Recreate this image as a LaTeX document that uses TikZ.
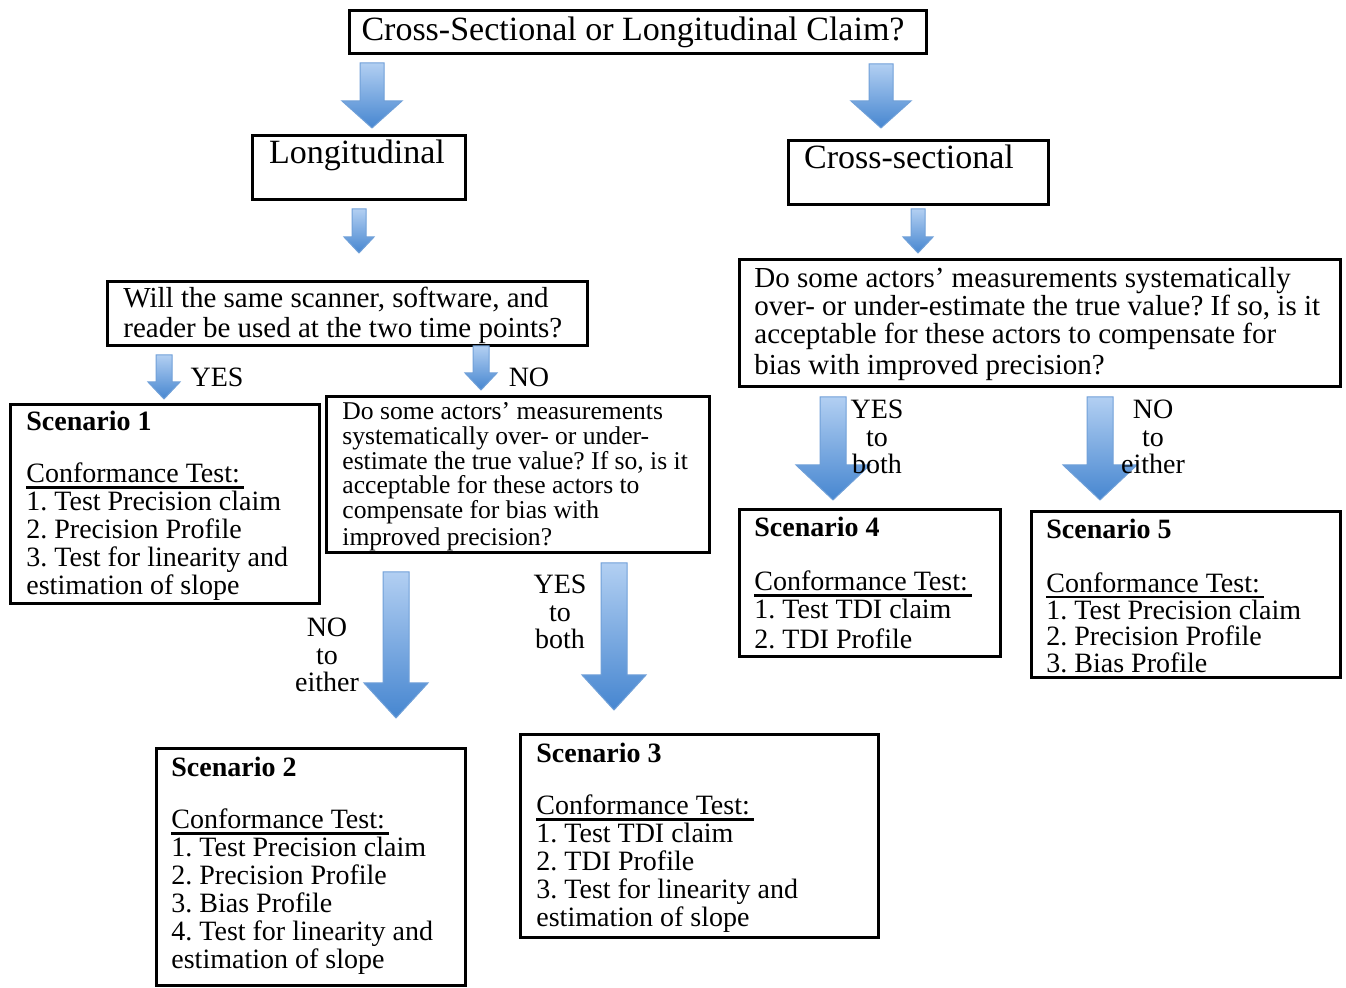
\documentclass[tikz,border=0pt]{standalone}
\usepackage{fontspec}
\setmainfont{Liberation Serif}
\usetikzlibrary{calc,fit}
\definecolor{arrowtop}{RGB}{178,207,242}
\definecolor{arrowbot}{RGB}{70,134,208}
\definecolor{arrowedge}{RGB}{112,160,216}
\tikzset{
  box/.style={draw, line width=1.5pt, inner sep=0pt},
  txt/.style={align=left, inner sep=0pt, anchor=north west, font=\fontsize{14}{14}\selectfont},
  lbl/.style={align=center, inner sep=0pt, anchor=north, font=\fontsize{14}{13.75}\selectfont},
}
\frenchspacing
\newcommand{\ctline}[1]{\setbox0=\hbox{#1}\rlap{\rule[-3pt]{\dimexpr\wd0+2pt\relax}{1.3pt}}\box0}
\newcommand{\bluearrow}[5]{%
  \path[draw=arrowedge, line width=0.5pt, top color=arrowtop, bottom color=arrowbot]
    ($(#1)+(-#3,0)$) -- ($(#1)+(#3,0)$) -- ($(#2)+(#3,-#5)$) -- ($(#2)+(#4,-#5)$)
    -- (#2) -- ($(#2)+(-#4,-#5)$) -- ($(#2)+(-#3,-#5)$) -- cycle;}
\begin{document}
\begin{tikzpicture}[x=0.5pt,y=-0.5pt]
    \useasboundingbox (0,0) rectangle (1346,988);
    \node[box, fit={(349,11) (926,54)}] (claim) {};
    \node[anchor=base, inner sep=0pt, font=\fontsize{17}{17}\selectfont] (claimt) at (633,41) {Cross-Sectional or Longitudinal Claim?};
    \node[box, fit={(252,136) (465,200)}] (long) {};
    \node[anchor=base, inner sep=0pt, font=\fontsize{17}{17}\selectfont] (longt) at (357,164) {Longitudinal};
    \node[box, fit={(788,141) (1048,205)}] (cross) {};
    \node[anchor=base, inner sep=0pt, font=\fontsize{17}{17}\selectfont] (crosst) at (909,169) {Cross-sectional};
    \node[box, fit={(107,282) (587,346)}] (same) {};
    \node[txt, font=\fontsize{14.5}{15}\selectfont] (samet) at (123,287) {Will the same scanner, software, and\\reader be used at the two time points?};
    \node[box, fit={(739,260) (1340,387)}] (biasr) {};
    \node[txt, font=\fontsize{14.5}{14}\selectfont] (biasrt) at (754,267) {Do some actors’ measurements systematically\\over- or under-estimate the true value? If so, is it\\acceptable for these actors to compensate for\\[1.5pt]bias with improved precision?};
    \node[box, fit={(326,397) (709,553)}] (biasl) {};
    \node[txt, font=\fontsize{12.8}{12.4}\selectfont] (biaslt) at (342,402) {Do some actors’ measurements\\systematically over- or under-\\estimate the true value? If so, is it\\acceptable for these actors to\\compensate for bias with\\[1pt]improved precision?};
    \node[box, fit={(10,405) (319,604)}] (sc1) {};
    \node[txt] (sc1t) at (26,411) {\textbf{Scenario 1}\\[12pt]\ctline{Conformance Test:}\\1. Test Precision claim\\2. Precision Profile\\3. Test for linearity and\\estimation of slope};
    \node[box, fit={(156,749) (465,986)}] (sc2) {};
    \node[txt] (sc2t) at (171,757) {\textbf{Scenario 2}\\[12pt]\ctline{Conformance Test:}\\1. Test Precision claim\\2. Precision Profile\\3. Bias Profile\\4. Test for linearity and\\estimation of slope};
    \node[box, fit={(520,735) (878,938)}] (sc3) {};
    \node[txt] (sc3t) at (536,743) {\textbf{Scenario 3}\\[12pt]\ctline{Conformance Test:}\\1. Test TDI claim\\2. TDI Profile\\3. Test for linearity and\\estimation of slope};
    \node[box, fit={(739,510) (1000,657)}] (sc4) {};
    \node[txt] (sc4t) at (754,517) {\textbf{Scenario 4}\\[13pt]\ctline{Conformance Test:}\\1. Test TDI claim\\[1pt]2. TDI Profile};
    \node[box, fit={(1031,512) (1340,678)}] (sc5) {};
    \node[txt, font=\fontsize{14}{13.3}\selectfont] (sc5t) at (1046,519) {\textbf{Scenario 5}\\[13.5pt]\ctline{Conformance Test:}\\1. Test Precision claim\\2. Precision Profile\\3. Bias Profile};
    \coordinate (a1s) at (372,63);   \coordinate (a1e) at (372,128);
    \coordinate (a2s) at (881,64);   \coordinate (a2e) at (881,128);
    \coordinate (a3s) at (359,209);  \coordinate (a3e) at (359,253);
    \coordinate (a4s) at (918,209);  \coordinate (a4e) at (918,253);
    \coordinate (a5s) at (164,355);  \coordinate (a5e) at (164,399);
    \coordinate (a6s) at (481,346);  \coordinate (a6e) at (481,390);
    \coordinate (a7s) at (833,397);  \coordinate (a7e) at (833,500);
    \coordinate (a8s) at (1100,397); \coordinate (a8e) at (1100,500);
    \coordinate (a9s) at (396,572);  \coordinate (a9e) at (396,718);
    \coordinate (a10s) at (614,563); \coordinate (a10e) at (614,710);
    \bluearrow{a1s}{a1e}{12}{30}{27}
    \bluearrow{a2s}{a2e}{12}{30}{27}
    \bluearrow{a3s}{a3e}{7}{15}{16}
    \bluearrow{a4s}{a4e}{7}{15}{16}
    \bluearrow{a5s}{a5e}{8}{16}{17}
    \bluearrow{a6s}{a6e}{8}{16}{17}
    \bluearrow{a7s}{a7e}{13}{37}{35}
    \bluearrow{a8s}{a8e}{13}{37}{35}
    \bluearrow{a9s}{a9e}{13}{32}{35}
    \bluearrow{a10s}{a10e}{13}{32}{35}
    \node[lbl] (yes1) at (217,368) {YES};
    \node[lbl] (no1) at (529,368) {NO};
    \node[lbl] (yes2) at (877,400) {YES\\to\\both};
    \node[lbl] (no2) at (1153,400) {NO\\to\\either};
    \node[lbl] (no3) at (327,618) {NO\\to\\either};
    \node[lbl] (yes3) at (560,575) {YES\\to\\both};
\end{tikzpicture}
\end{document}
